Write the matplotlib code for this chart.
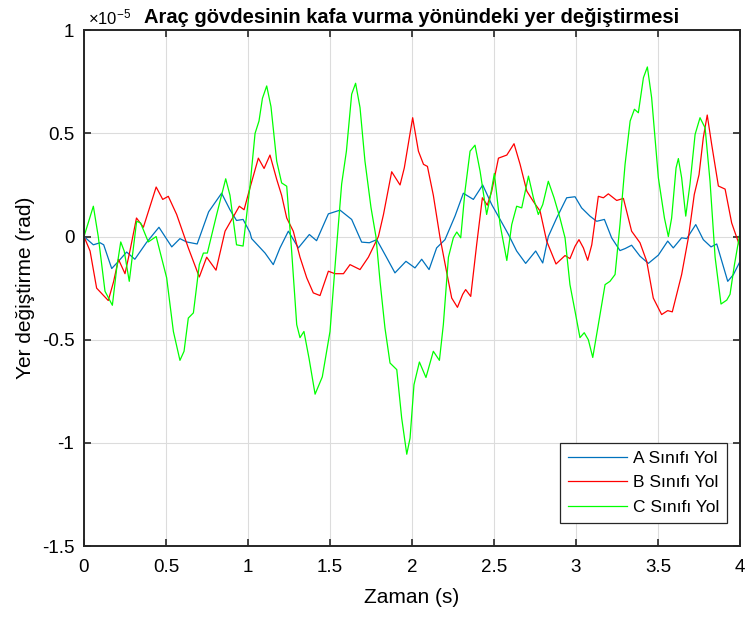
import matplotlib
matplotlib.use('Agg')
import matplotlib.pyplot as plt

plt.rcParams['font.family'] = ['Liberation Sans', 'DejaVu Sans']
plt.rcParams['mathtext.fontset'] = 'custom'
plt.rcParams['mathtext.rm'] = 'Liberation Sans'
plt.rcParams['mathtext.it'] = 'Liberation Sans:italic'

# values in units of 1e-5 rad
t_a = [0.0, 0.057, 0.098, 0.12, 0.169, 0.21, 0.26, 0.31, 0.38, 0.457, 0.535, 0.585, 0.625,
       0.69, 0.76, 0.839, 0.89, 0.93, 0.97, 1.012,
       1.022, 1.104, 1.154, 1.195, 1.246, 1.307, 1.374, 1.418, 1.49, 1.561, 1.632, 1.693,
       1.74, 1.785, 1.835, 1.896, 1.963, 2.018,
       2.059, 2.104, 2.15, 2.201, 2.262, 2.313, 2.374, 2.431, 2.486, 2.537, 2.588, 2.638,
       2.693, 2.754, 2.797, 2.831, 2.882, 2.943, 2.994,
       3.034, 3.085, 3.126, 3.173, 3.217, 3.268, 3.3, 3.339, 3.39, 3.441, 3.502, 3.559,
       3.593, 3.644, 3.675, 3.73, 3.776, 3.823, 3.858, 3.925, 3.96, 4.0]
v_a = [0.0, -0.04, -0.03, -0.04, -0.155, -0.12, -0.075, -0.11, -0.03, 0.045, -0.05, -0.01, -0.026,
       -0.036, 0.12, 0.21, 0.13, 0.078, 0.083, 0.02,
       -0.01, -0.08, -0.136, -0.055, 0.026, -0.055, 0.01, -0.02, 0.11, 0.128, 0.083, -0.027,
       -0.03, -0.015, -0.087, -0.176, -0.12, -0.152,
       -0.11, -0.16, -0.055, -0.015, 0.099, 0.21, 0.18, 0.25, 0.155, 0.083, 0.01, -0.07,
       -0.13, -0.07, -0.128, 0.0, 0.09, 0.188, 0.193,
       0.139, 0.099, 0.074, 0.083, -0.006, -0.068, -0.058, -0.042, -0.095, -0.13, -0.09, -0.022,
       -0.055, -0.006, -0.01, 0.058, -0.015, -0.05, -0.036, -0.217, -0.184, -0.12]

t_b = [0.0, 0.037, 0.077, 0.148, 0.18, 0.21, 0.25, 0.28, 0.32, 0.362, 0.44, 0.48, 0.514,
       0.565, 0.636, 0.703, 0.748, 0.805, 0.86, 0.947, 0.976, 1.012,
       1.063, 1.098, 1.134, 1.175, 1.205, 1.236, 1.276, 1.317, 1.358, 1.398, 1.439, 1.49,
       1.53, 1.582, 1.622, 1.683, 1.734, 1.795, 1.826, 1.876, 1.927, 1.953, 2.004,
       2.039, 2.07, 2.094, 2.13, 2.171, 2.212, 2.242, 2.277, 2.309, 2.327, 2.358, 2.394,
       2.429, 2.459, 2.486, 2.527, 2.578, 2.622, 2.659, 2.7, 2.74, 2.781, 2.821, 2.878,
       2.933, 2.963, 2.994,
       3.018, 3.045, 3.071, 3.096, 3.136, 3.167, 3.197, 3.248, 3.289, 3.339, 3.39, 3.431,
       3.471, 3.522, 3.559, 3.587, 3.644, 3.685, 3.721, 3.75, 3.776, 3.8, 3.827, 3.868,
       3.909, 3.949, 4.0]
v_b = [0.0, -0.07, -0.25, -0.31, -0.22, -0.11, -0.18, -0.07, 0.09, 0.045, 0.24, 0.18, 0.195,
       0.107, -0.055, -0.196, -0.1, -0.163, 0.026, 0.147, 0.13, 0.236,
       0.38, 0.33, 0.395, 0.277, 0.2, 0.09, 0.026, -0.1, -0.2, -0.273, -0.286, -0.168,
       -0.18, -0.18, -0.136, -0.16, -0.1, 0.0, 0.107, 0.314, 0.25, 0.333, 0.576,
       0.414, 0.35, 0.34, 0.2, -0.006, -0.176, -0.298, -0.343, -0.28, -0.257, -0.29, -0.04,
       0.188, 0.152, 0.22, 0.38, 0.395, 0.45, 0.35, 0.22, 0.17, 0.123, -0.022, -0.133,
       -0.092, -0.107, -0.047,
       -0.015, -0.055, -0.115, -0.04, 0.195, 0.188, 0.207, 0.175, 0.185, 0.026, -0.03, -0.12,
       -0.298, -0.378, -0.359, -0.365, -0.184, -0.006, 0.204, 0.3, 0.479, 0.589, 0.447, 0.245,
       0.23, 0.066, -0.05]

t_c = [0.0, 0.057, 0.087, 0.128, 0.173, 0.2, 0.224, 0.245, 0.276, 0.321, 0.345, 0.392, 0.44,
       0.504, 0.545, 0.585, 0.61, 0.636, 0.667, 0.703, 0.728, 0.752, 0.809, 0.864, 0.89,
       0.93, 0.97, 1.012,
       1.043, 1.067, 1.088, 1.114, 1.14, 1.175, 1.205, 1.236, 1.266, 1.297, 1.317, 1.341,
       1.372, 1.409, 1.453, 1.5, 1.535, 1.571, 1.6, 1.632, 1.656, 1.683, 1.713, 1.75, 1.78,
       1.805, 1.835, 1.866, 1.907, 1.937, 1.968, 1.988,
       2.012, 2.045, 2.085, 2.13, 2.167, 2.191, 2.222, 2.252, 2.273, 2.297, 2.323, 2.354,
       2.384, 2.415, 2.455, 2.476, 2.502, 2.537, 2.578, 2.608, 2.638, 2.669, 2.71, 2.74,
       2.77, 2.797, 2.831, 2.866, 2.902, 2.933, 2.963, 2.994,
       3.024, 3.05, 3.075, 3.102, 3.136, 3.177, 3.207, 3.238, 3.268, 3.299, 3.33, 3.356,
       3.38, 3.411, 3.435, 3.461, 3.502, 3.539, 3.563, 3.583, 3.61, 3.624, 3.644, 3.669,
       3.695, 3.726, 3.756, 3.787, 3.817, 3.848, 3.884, 3.919, 3.939, 3.966, 4.0]
v_c = [0.0, 0.147, 0.0, -0.265, -0.333, -0.15, -0.026, -0.07, -0.217, 0.074, 0.066, -0.026, 0.0,
       -0.2, -0.46, -0.6, -0.556, -0.395, -0.37, -0.136, -0.08, -0.08, 0.107, 0.28, 0.2,
       -0.04, -0.046, 0.245,
       0.5, 0.56, 0.67, 0.73, 0.63, 0.365, 0.26, 0.244, -0.07, -0.427, -0.49, -0.46,
       -0.59, -0.764, -0.68, -0.46, -0.1, 0.255, 0.414, 0.69, 0.743, 0.625, 0.366, 0.14, 0.0,
       -0.217, -0.443, -0.613, -0.645, -0.88, -1.055, -0.977,
       -0.718, -0.608, -0.683, -0.556, -0.6, -0.427, -0.1, -0.006, 0.022, -0.006, 0.22, 0.414,
       0.443, 0.317, 0.107, 0.188, 0.306, 0.058, -0.116, 0.058, 0.147, 0.139, 0.293, 0.188,
       0.107, 0.155, 0.268, 0.188, 0.09, -0.006, -0.233, -0.362,
       -0.49, -0.466, -0.5, -0.586, -0.427, -0.233, -0.217, -0.184, 0.058, 0.35, 0.56, 0.617,
       0.6, 0.77, 0.822, 0.673, 0.285, 0.09, 0.0, 0.09, 0.333, 0.378, 0.285, 0.099,
       0.255, 0.495, 0.576, 0.527, 0.268, -0.1, -0.327, -0.308, -0.28, -0.136, 0.02]

x_ticks = [0, 0.5, 1, 1.5, 2, 2.5, 3, 3.5, 4]
x_labels = ['0', '0.5', '1', '1.5', '2', '2.5', '3', '3.5', '4']
y_ticks = [-1.5, -1, -0.5, 0, 0.5, 1]
y_labels = ['-1.5', '-1', '-0.5', '0', '0.5', '1']

fig = plt.figure(figsize=(7.46, 6.17), dpi=100)
ax = fig.add_axes([0.1126, 0.115, 0.8794, 0.836])

ax.plot(t_a, v_a, color=(0, 0.447, 0.741), lw=0.9, label='A Sınıfı Yol')
ax.plot(t_b, v_b, color=(1, 0, 0), lw=0.9, label='B Sınıfı Yol')
ax.plot(t_c, v_c, color=(0, 1, 0), lw=0.9, label='C Sınıfı Yol')

ax.set_xlim(0, 4)
ax.set_ylim(-1.5, 1)
ax.set_xticks(x_ticks)
ax.set_xticklabels(x_labels)
ax.set_yticks(y_ticks)
ax.set_yticklabels(y_labels)
ax.grid(True, color='#dcdcdc', lw=0.8)
ax.set_axisbelow(True)
ax.tick_params(direction='in', length=5, width=1.2, top=True, right=True,
               labelsize=13.5, colors='#262626', labelcolor='black')
ax.tick_params(axis='x', pad=9)
ax.tick_params(axis='y', pad=7)
for s in ax.spines.values():
    s.set_color('#262626')
    s.set_linewidth(1.4)

ax.set_xlabel('Zaman (s)', fontsize=15, labelpad=9)
ax.set_ylabel('Yer değiştirme (rad)', fontsize=15, labelpad=5)
ax.set_title('Araç gövdesinin kafa vurma yönündeki yer değiştirmesi',
             fontsize=14.5, fontweight='bold', pad=5)
ax.text(0.006, 1.006, r'$\times\mathrm{10}^{-5}$', transform=ax.transAxes, fontsize=12,
        ha='left', va='bottom')

leg = ax.legend(loc='lower right', bbox_to_anchor=(0.98, 0.045), borderaxespad=0,
                fontsize=12.5, handlelength=3.4, handletextpad=0.35, fancybox=False,
                framealpha=1, edgecolor='#262626', labelspacing=0.55, borderpad=0.45)
leg.get_frame().set_linewidth(0.9)

fig.savefig('out.png', dpi=100)
